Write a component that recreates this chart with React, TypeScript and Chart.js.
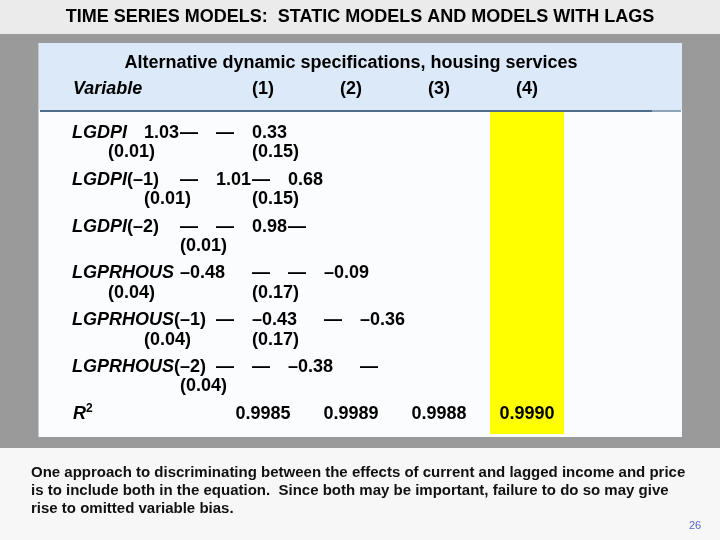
import { useEffect, useRef } from "react";
import { Chart, registerables } from "chart.js";

Chart.register(...registerables);

// ---------- data ----------
const categories = ["(1)", "(2)", "(3)", "(4)"];
const variables = ["LGDPI", "LGDPI(–1)", "LGDPI(–2)", "LGPRHOUS", "LGPRHOUS(–1)", "LGPRHOUS(–2)"];
const coefModel1 = [1.03, null, null, -0.48, null, null];
const coefModel2 = [null, 1.01, null, null, -0.43, null];
const coefModel3 = [null, null, 0.98, null, null, -0.38];
const coefModel4 = [0.33, 0.68, null, -0.09, -0.36, null];
const seModel1 = [0.01, null, null, 0.04, null, null];
const seModel2 = [null, 0.01, null, null, 0.04, null];
const seModel3 = [null, null, 0.01, null, null, 0.04];
const seModel4 = [0.15, 0.15, null, 0.17, 0.17, null];
const rSquared = [0.9985, 0.9989, 0.9988, 0.999];
const highlight = [0, 0, 0, 1]; // column (4) highlighted

const slideTitle = "TIME SERIES MODELS:  STATIC MODELS AND MODELS WITH LAGS";
const tableTitle = "Alternative dynamic specifications, housing services";
const variableHeader = "Variable";
const noteLines = [
  "One approach to discriminating between the effects of current and lagged income and price",
  "is to include both in the equation.  Since both may be important, failure to do so may give",
  "rise to omitted variable bias.",
];
const pageNumber = "26";

// ---------- layout / style ----------
const FONT = '"Liberation Sans", Arial, sans-serif';
const TABLE_PX = 18;
const TAB_ORIGIN = 72;
const TAB_STEP = 36;
const ROW_Y0 = 133;
const ROW_STEP = 46.8;
const SE_OFFSET = 19.5;

const fmt = (v: number | null, digits = 2) =>
  v === null ? "—" : (v < 0 ? "–" : "") + Math.abs(v).toFixed(digits);
const fmtSe = (v: number | null) => (v === null ? "" : "(" + v.toFixed(2) + ")");

const backgroundPlugin = {
  id: "slideBackground",
  beforeDraw(chart: any) {
    const ctx = chart.ctx as CanvasRenderingContext2D;
    ctx.save();
    ctx.fillStyle = "#f7f7f7";
    ctx.fillRect(0, 0, 720, 540);
    ctx.fillStyle = "#ebebeb";
    ctx.fillRect(0, 0, 720, 34);
    ctx.fillStyle = "#9a9a9a";
    ctx.fillRect(0, 34, 720, 414);
    // table box
    ctx.fillStyle = "#fbfcfe";
    ctx.fillRect(38, 43, 644, 394);
    ctx.fillStyle = "#dce9f8";
    ctx.fillRect(38, 43, 644, 67);
    ctx.fillStyle = "#c9c9c9";
    ctx.fillRect(38, 43, 1, 394);
    ctx.fillStyle = "#4f6d8c";
    ctx.fillRect(40, 110, 612, 2);
    ctx.fillStyle = "#8ea2b8";
    ctx.fillRect(652, 110, 29, 2);
    ctx.restore();
  },
};

function tabbedLine(ctx: CanvasRenderingContext2D, cells: string[], y: number, firstItalic: boolean) {
  let x = TAB_ORIGIN;
  cells.forEach((cell, idx) => {
    if (idx > 0) x = TAB_ORIGIN + TAB_STEP * (Math.floor((x - TAB_ORIGIN + 0.5) / TAB_STEP) + 1);
    if (idx === 0 && firstItalic) {
      const m = cell.match(/^([A-Z]+)(.*)$/);
      const base = m ? m[1] : cell;
      const rest = m ? m[2] : "";
      ctx.font = `italic bold ${TABLE_PX}px ${FONT}`;
      ctx.fillText(base, x, y);
      x += ctx.measureText(base).width;
      ctx.font = `bold ${TABLE_PX}px ${FONT}`;
      ctx.fillText(rest, x, y);
      x += ctx.measureText(rest).width;
    } else {
      ctx.font = `bold ${TABLE_PX}px ${FONT}`;
      ctx.fillText(cell, x, y);
      x += ctx.measureText(cell).width;
    }
  });
}

const textPlugin = {
  id: "slideText",
  afterDraw(chart: any) {
    const ctx = chart.ctx as CanvasRenderingContext2D;
    const xs = chart.scales.x;
    ctx.save();
    ctx.textBaseline = "middle";
    ctx.fillStyle = "#000";

    // slide title
    ctx.textAlign = "center";
    ctx.font = `bold 18px ${FONT}`;
    ctx.fillText(slideTitle, 360, 17);

    // table title
    ctx.font = `bold 18px ${FONT}`;
    ctx.fillText(tableTitle, 351, 63);

    // header row
    ctx.textAlign = "left";
    ctx.font = `italic bold ${TABLE_PX}px ${FONT}`;
    ctx.fillText(variableHeader, 73, 89);
    ctx.textAlign = "center";
    ctx.font = `bold ${TABLE_PX}px ${FONT}`;
    categories.forEach((c, i) => ctx.fillText(c, xs.getPixelForValue(i), 89));

    // body rows
    ctx.textAlign = "left";
    variables.forEach((v, i) => {
      const y = ROW_Y0 + i * ROW_STEP;
      tabbedLine(
        ctx,
        [v, fmt(coefModel1[i]), fmt(coefModel2[i]), fmt(coefModel3[i]), fmt(coefModel4[i])],
        y,
        true
      );
      tabbedLine(
        ctx,
        ["", fmtSe(seModel1[i]), fmtSe(seModel2[i]), fmtSe(seModel3[i]), fmtSe(seModel4[i])],
        y + SE_OFFSET,
        false
      );
    });

    // R squared
    const yR = ROW_Y0 + variables.length * ROW_STEP;
    ctx.font = `italic bold ${TABLE_PX}px ${FONT}`;
    ctx.fillText("R", 73, yR);
    const rw = ctx.measureText("R").width;
    ctx.font = `bold 12px ${FONT}`;
    ctx.fillText("2", 73 + rw, yR - 5);
    ctx.textAlign = "center";
    ctx.font = `bold ${TABLE_PX}px ${FONT}`;
    rSquared.forEach((r, i) => ctx.fillText(r.toFixed(4), xs.getPixelForValue(i), yR));

    // note
    ctx.textAlign = "left";
    ctx.font = `bold 15px ${FONT}`;
    ctx.fillStyle = "#111";
    noteLines.forEach((l, i) => ctx.fillText(l, 31, 473 + i * 18));

    ctx.textAlign = "center";
    ctx.font = `11px ${FONT}`;
    ctx.fillStyle = "#5566c8";
    ctx.fillText(pageNumber, 695, 526);
    ctx.restore();
  },
};

export default function App() {
  const ref = useRef<HTMLCanvasElement>(null);
  useEffect(() => {
    document.body.style.margin = "0";
    const canvas = ref.current!;
    const chart = new Chart(canvas, {
      type: "bar",
      data: {
        labels: categories,
        datasets: [
          {
            data: highlight,
            backgroundColor: "#ffff00",
            borderWidth: 0,
            barPercentage: 0.84,
            categoryPercentage: 1,
          },
        ],
      },
      options: {
        animation: false,
        responsive: false,
        devicePixelRatio: 1,
        layout: { padding: { left: 219, right: 149, top: 112, bottom: 106 } },
        scales: {
          x: { display: false },
          y: { display: false, min: 0, max: 1 },
        },
        plugins: { legend: { display: false }, tooltip: { enabled: false } },
      },
      plugins: [backgroundPlugin, textPlugin],
    });
    return () => chart.destroy();
  }, []);
  return <canvas ref={ref} width={720} height={540} style={{ display: "block" }} />;
}
